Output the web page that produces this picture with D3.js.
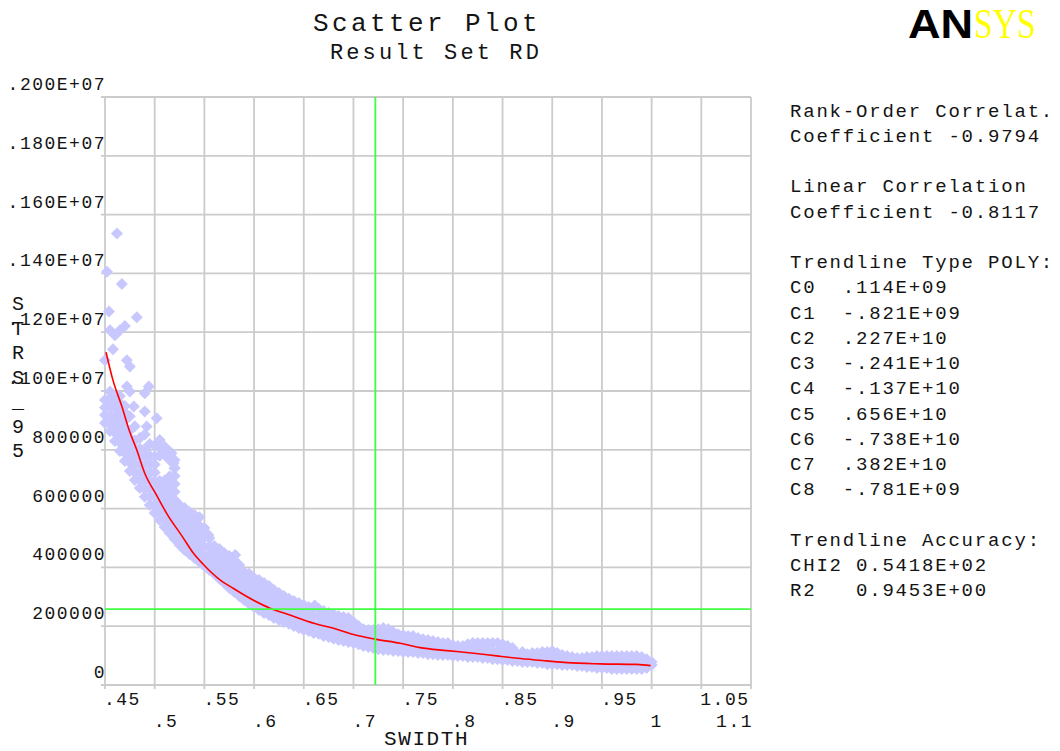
<!DOCTYPE html>
<html>
<head>
<meta charset="utf-8">
<script src="https://cdn.jsdelivr.net/npm/d3@7"></script>
<style>
  html, body { margin: 0; padding: 0; background: #fff; }
  svg { display: block; }
  text { font-family: "Liberation Mono", "Courier New", monospace; fill: #141414; }
</style>
</head>
<body>
<svg id="chart" width="1060" height="751"></svg>
<script>
// ---- axis ticks ----
const xTicks = [0.45, 0.5, 0.55, 0.6, 0.65, 0.7, 0.75, 0.8, 0.85, 0.9, 0.95, 1.0, 1.05, 1.1];
const xTickLabels = [".45", ".5", ".55", ".6", ".65", ".7", ".75", ".8", ".85", ".9", ".95", "1", "1.05", "1.1"];
const yTicks = [0, 200000, 400000, 600000, 800000, 1000000, 1200000, 1400000, 1600000, 1800000, 2000000];
const yTickLabels = ["0", "200000", "400000", "600000", "800000", ".100E+07", ".120E+07", ".140E+07", ".160E+07", ".180E+07", ".200E+07"];

// ---- sampled runs: SWIDTH column -> STRS_95 results ----
const strsByWidth = [
  [0.450, [891e3, 918e3, 944e3, 969e3]],
  [0.455, [864e3, 890e3, 917e3, 947e3, 976e3]],
  [0.460, [830e3, 858e3, 887e3, 913e3, 941e3, 969e3]],
  [0.465, [796e3, 824e3, 851e3, 878e3, 905e3, 931e3, 958e3, 983e3]],
  [0.470, [762e3, 789e3, 817e3, 845e3, 872e3, 900e3, 927e3, 949e3]],
  [0.475, [728e3, 756e3, 784e3, 811e3, 839e3, 866e3, 914e3]],
  [0.480, [697e3, 724e3, 751e3, 778e3, 805e3, 832e3, 880e3]],
  [0.485, [670e3, 697e3, 724e3, 751e3, 778e3, 804e3, 840e3]],
  [0.490, [640e3, 667e3, 694e3, 721e3, 749e3, 776e3, 803e3, 852e3]],
  [0.495, [612e3, 640e3, 668e3, 696e3, 724e3, 752e3, 780e3, 820e3]],
  [0.500, [585e3, 613e3, 641e3, 668e3, 695e3, 723e3, 750e3, 777e3, 815e3]],
  [0.505, [561e3, 589e3, 617e3, 644e3, 671e3, 694e3, 780e3, 806e3, 833e3]],
  [0.510, [537e3, 564e3, 592e3, 619e3, 646e3, 673e3, 696e3, 783e3, 810e3]],
  [0.515, [517e3, 544e3, 571e3, 598e3, 626e3, 653e3, 680e3, 708e3, 765e3, 793e3]],
  [0.520, [497e3, 523e3, 550e3, 576e3, 603e3, 630e3, 657e3, 684e3, 711e3, 738e3, 765e3]],
  [0.525, [476e3, 503e3, 530e3, 557e3, 585e3, 612e3]],
  [0.530, [459e3, 487e3, 516e3, 545e3, 574e3, 602e3]],
  [0.535, [446e3, 474e3, 503e3, 531e3, 560e3, 588e3]],
  [0.540, [432e3, 461e3, 490e3, 519e3, 548e3, 578e3]],
  [0.545, [418e3, 449e3, 480e3, 510e3, 541e3, 571e3]],
  [0.550, [405e3, 437e3, 469e3, 502e3, 534e3]],
  [0.555, [391e3, 418e3, 445e3, 473e3, 500e3]],
  [0.560, [378e3, 402e3, 426e3, 450e3, 473e3]],
  [0.565, [361e3, 386e3, 412e3, 438e3, 463e3]],
  [0.570, [347e3, 372e3, 398e3, 424e3, 449e3]],
  [0.575, [330e3, 357e3, 384e3, 412e3, 439e3]],
  [0.580, [316e3, 343e3, 370e3, 398e3, 425e3]],
  [0.585, [303e3, 329e3, 355e3, 382e3, 408e3]],
  [0.590, [289e3, 313e3, 337e3, 361e3, 384e3]],
  [0.595, [276e3, 302e3, 327e3, 353e3, 378e3]],
  [0.600, [265e3, 290e3, 314e3, 339e3, 364e3]],
  [0.605, [255e3, 280e3, 306e3, 331e3, 357e3]],
  [0.610, [245e3, 271e3, 296e3, 322e3, 347e3]],
  [0.615, [238e3, 263e3, 287e3, 312e3, 337e3]],
  [0.620, [228e3, 252e3, 276e3, 300e3, 323e3]],
  [0.625, [221e3, 244e3, 267e3, 290e3, 313e3]],
  [0.630, [214e3, 237e3, 259e3, 281e3, 303e3]],
  [0.635, [208e3, 229e3, 250e3, 272e3, 293e3]],
  [0.640, [201e3, 229e3, 258e3, 286e3]],
  [0.645, [194e3, 222e3, 251e3, 279e3]],
  [0.650, [187e3, 216e3, 244e3, 272e3]],
  [0.655, [184e3, 211e3, 238e3, 265e3]],
  [0.660, [177e3, 205e3, 234e3, 262e3]],
  [0.665, [174e3, 202e3, 231e3, 259e3]],
  [0.670, [167e3, 195e3, 224e3, 252e3]],
  [0.675, [163e3, 190e3, 218e3, 245e3]],
  [0.680, [157e3, 185e3, 213e3, 241e3]],
  [0.685, [153e3, 180e3, 208e3, 235e3]],
  [0.690, [150e3, 177e3, 204e3, 231e3]],
  [0.695, [146e3, 173e3, 201e3, 228e3]],
  [0.700, [143e3, 167e3, 190e3, 214e3]],
  [0.705, [139e3, 160e3, 180e3, 201e3]],
  [0.710, [133e3, 152e3, 171e3, 190e3]],
  [0.715, [129e3, 148e3, 168e3, 187e3]],
  [0.720, [126e3, 146e3, 166e3, 187e3]],
  [0.725, [122e3, 145e3, 168e3, 190e3]],
  [0.730, [119e3, 144e3, 169e3, 194e3]],
  [0.735, [119e3, 143e3, 166e3, 190e3]],
  [0.740, [116e3, 137e3, 158e3, 180e3]],
  [0.745, [116e3, 135e3, 154e3, 173e3]],
  [0.750, [112e3, 131e3, 150e3, 170e3]],
  [0.755, [112e3, 130e3, 149e3, 167e3]],
  [0.760, [112e3, 130e3, 149e3, 167e3]],
  [0.765, [109e3, 126e3, 143e3, 160e3]],
  [0.770, [109e3, 125e3, 140e3, 156e3]],
  [0.775, [105e3, 121e3, 137e3, 153e3]],
  [0.780, [105e3, 120e3, 135e3, 150e3]],
  [0.785, [102e3, 117e3, 131e3, 146e3]],
  [0.790, [102e3, 116e3, 130e3, 143e3]],
  [0.795, [102e3, 116e3, 130e3, 143e3]],
  [0.800, [99e3, 118e3, 136e3]],
  [0.805, [99e3, 116e3, 133e3]],
  [0.810, [99e3, 116e3, 133e3]],
  [0.815, [95e3, 117e3, 139e3]],
  [0.820, [95e3, 119e3, 143e3]],
  [0.825, [95e3, 119e3, 143e3]],
  [0.830, [92e3, 117e3, 143e3]],
  [0.835, [92e3, 117e3, 143e3]],
  [0.840, [88e3, 115e3, 143e3]],
  [0.845, [88e3, 115e3, 143e3]],
  [0.850, [85e3, 112e3, 139e3]],
  [0.855, [85e3, 109e3, 133e3]],
  [0.860, [82e3, 104e3, 126e3]],
  [0.865, [82e3, 105e3]],
  [0.870, [78e3, 95e3, 112e3]],
  [0.875, [78e3, 105e3]],
  [0.880, [78e3, 94e3, 109e3]],
  [0.885, [75e3, 92e3, 109e3]],
  [0.890, [75e3, 93e3, 112e3]],
  [0.895, [71e3, 91e3, 112e3]],
  [0.900, [71e3, 93e3, 116e3]],
  [0.905, [71e3, 90e3, 109e3]],
  [0.910, [68e3, 85e3, 102e3]],
  [0.915, [68e3, 84e3, 99e3]],
  [0.920, [68e3, 95e3]],
  [0.925, [65e3, 92e3]],
  [0.930, [65e3, 79e3, 92e3]],
  [0.935, [61e3, 78e3, 95e3]],
  [0.940, [61e3, 78e3, 95e3]],
  [0.945, [58e3, 78e3, 99e3]],
  [0.950, [58e3, 78e3, 99e3]],
  [0.955, [58e3, 78e3, 99e3]],
  [0.960, [54e3, 76e3, 99e3]],
  [0.965, [54e3, 76e3, 99e3]],
  [0.970, [54e3, 76e3, 99e3]],
  [0.975, [54e3, 76e3, 99e3]],
  [0.980, [54e3, 76e3, 99e3]],
  [0.985, [54e3, 76e3, 99e3]],
  [0.990, [54e3, 74e3, 95e3]],
  [0.995, [58e3, 88e3]],
  [1.000, [68e3, 78e3]]
];

// isolated runs above the main cloud
const isolatedRuns = [
  [0.462, 1536e3], [0.452, 1406e3], [0.467, 1364e3], [0.454, 1270e3], [0.482, 1251e3],
  [0.455, 1207e3], [0.460, 1190e3], [0.465, 1207e3], [0.470, 1221e3], [0.458, 1142e3],
  [0.450, 1105e3], [0.472, 1105e3], [0.475, 1083e3], [0.455, 998e3], [0.462, 981e3],
  [0.472, 1015e3], [0.475, 998e3], [0.490, 992e3], [0.494, 1015e3], [0.479, 947e3],
  [0.490, 930e3], [0.502, 907e3], [0.492, 879e3], [0.517, 788e3], [0.519, 754e3],
  [0.520, 737e3], [0.515, 709e3], [0.512, 675e3], [0.554, 510e3], [0.581, 442e3],
  [0.661, 270e3]
];

// polynomial trendline as drawn
const trendSwidth = [0.451, 0.458, 0.467, 0.474, 0.482, 0.490, 0.502, 0.512, 0.528, 0.539, 0.549, 0.566, 0.579, 0.599, 0.616, 0.636, 0.660, 0.680, 0.700, 0.722, 0.747, 0.767, 0.794, 0.821, 0.844, 0.868, 0.894, 0.915, 0.948, 0.985, 0.999];
const trendStrs = [1132000, 1037000, 947000, 870000, 799000, 720000, 645000, 584000, 504000, 448000, 410000, 357000, 329000, 289000, 261000, 238000, 210000, 193000, 172000, 156000, 142000, 127000, 117000, 108000, 99000, 90000, 82000, 76000, 72000, 70000, 66000];

// mean markers
const meanSwidth = 0.722;
const meanStrs = 258000;

// statistics panel
const statLines = [
  "Rank-Order Correlat.", "Coefficient -0.9794", "",
  "Linear Correlation", "Coefficient -0.8117", "",
  "Trendline Type POLY:",
  "C0  .114E+09", "C1  -.821E+09", "C2  .227E+10", "C3  -.241E+10", "C4  -.137E+10",
  "C5  .656E+10", "C6  -.738E+10", "C7  .382E+10", "C8  -.781E+09", "",
  "Trendline Accuracy:", "CHI2 0.5418E+02", "R2   0.9453E+00"
];

const yTitleChars = ["S", "T", "R", "S", "_", "9", "5"];

// ---- scales ----
const x = d3.scaleLinear().domain([0.45, 1.1]).range([105, 751]);
const y = d3.scaleLinear().domain([0, 2000000]).range([685, 97]);

const svg = d3.select("#chart");
svg.append("rect").attr("width", 1060).attr("height", 751).attr("fill", "#fff");

// grid
const grid = svg.append("g").attr("stroke", "#cbcbcb").attr("stroke-width", 1.8);
grid.selectAll("line.v").data(xTicks).join("line")
  .attr("x1", d => x(d)).attr("x2", d => x(d))
  .attr("y1", y(2000000)).attr("y2", y(0) + 4);
grid.selectAll("line.h").data(yTicks).join("line")
  .attr("y1", d => y(d)).attr("y2", d => y(d))
  .attr("x1", x(0.45) - 4).attr("x2", x(1.1));

// runs
const runs = [];
strsByWidth.forEach(([w, vals]) => vals.forEach(v => runs.push([w, v])));
isolatedRuns.forEach(p => runs.push(p));
const diamond = "M0,-6L6,0L0,6L-6,0Z";
svg.append("g").selectAll("path").data(runs).join("path")
  .attr("d", diamond)
  .attr("transform", d => `translate(${x(d[0])},${y(d[1])})`)
  .attr("fill", "#c8c8ff");

// trendline
const trend = trendSwidth.map((w, i) => [w, trendStrs[i]]);
svg.append("path").datum(trend)
  .attr("d", d3.line().x(d => x(d[0])).y(d => y(d[1])).curve(d3.curveMonotoneX))
  .attr("fill", "none").attr("stroke", "#ff0000").attr("stroke-width", 1.6);

// mean lines
svg.append("line").attr("x1", x(meanSwidth)).attr("x2", x(meanSwidth))
  .attr("y1", y(2000000)).attr("y2", y(0))
  .attr("stroke", "#40ff40").attr("stroke-width", 1.8);
svg.append("line").attr("x1", x(0.45)).attr("x2", x(1.1))
  .attr("y1", y(meanStrs)).attr("y2", y(meanStrs))
  .attr("stroke", "#40ff40").attr("stroke-width", 1.8);

// y tick labels
svg.append("g").selectAll("text").data(yTicks).join("text")
  .attr("x", 106).attr("y", d => y(d) - 7)
  .attr("text-anchor", "end")
  .style("font-size", "18px").style("letter-spacing", "1.5px")
  .text((d, i) => yTickLabels[i]);

// x tick labels, staggered in two rows
const xl = svg.append("g").selectAll("text").data(xTicks).join("text")
  .attr("y", (d, i) => i % 2 === 0 ? 705 : 727)
  .style("font-size", "18px").style("letter-spacing", "1.5px")
  .text((d, i) => xTickLabels[i]);
xl.each(function(d) {
  const w = this.getComputedTextLength();
  const px = Math.min(x(d) - 1, 753 - w);
  d3.select(this).attr("x", px);
});

// axis titles
svg.append("text").attr("x", 384).attr("y", 745)
  .style("font-size", "21px").style("letter-spacing", "1.6px").text("SWIDTH");
svg.append("g").selectAll("text").data(yTitleChars).join("text")
  .attr("x", 18).attr("y", (d, i) => 310 + i * 24.5)
  .attr("text-anchor", "middle")
  .style("font-size", "20px").text(d => d);

// titles
svg.append("text").attr("x", 313).attr("y", 31)
  .style("font-size", "26px").style("letter-spacing", "3.4px").text("Scatter Plot");
svg.append("text").attr("x", 330).attr("y", 59)
  .style("font-size", "22px").style("letter-spacing", "3.1px").text("Result Set RD");

// statistics panel
svg.append("g").selectAll("text").data(statLines).join("text")
  .attr("x", 790).attr("y", (d, i) => 116.5 + i * 25.26)
  .style("font-size", "19px").style("letter-spacing", "1.8px")
  .attr("xml:space", "preserve").style("white-space", "pre")
  .text(d => d);

// logo
svg.append("text").attr("transform", "translate(908,38) scale(1.1,1)")
  .style("font-family", "'Liberation Sans', Arial, sans-serif").style("font-weight", "bold")
  .style("font-size", "41px").style("fill", "#000").text("AN");
svg.append("text").attr("transform", "translate(974,38) scale(0.8,1)")
  .style("font-family", "'Liberation Serif', 'Times New Roman', serif")
  .style("font-size", "42px").style("fill", "#ffff00").text("SYS");
</script>
</body>
</html>
